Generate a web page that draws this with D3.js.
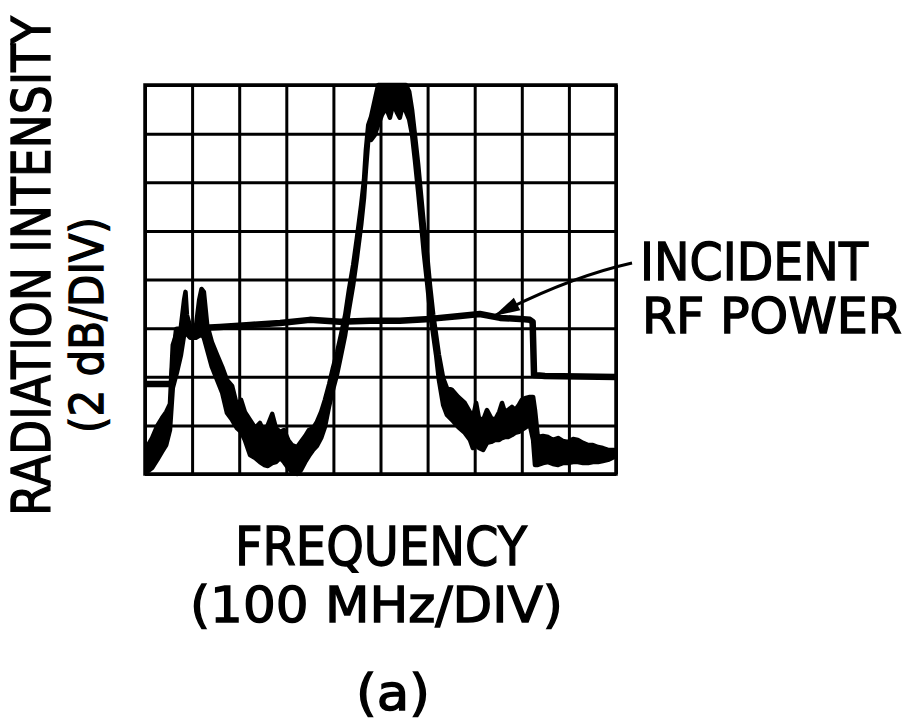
<!DOCTYPE html>
<html>
<head>
<meta charset="utf-8">
<script src="https://cdn.jsdelivr.net/npm/d3@7"></script>
<style>
  body { margin: 0; background: #fff; }
  text { font-family: "DejaVu Sans", sans-serif; fill: #000; stroke: #000; stroke-width: 1.4px; }
</style>
</head>
<body>
<div id="chart"></div>
<script>
// frequency offset (MHz, 100 MHz/div) and radiation intensity (dB, 2 dB/div)
var gridFreq = [0, 100, 200, 300, 400, 500, 600, 700, 800, 900, 1000];
var gridDb = [0, 2, 4, 6, 8, 10, 12, 14, 16];

// noisy radiation trace: top and bottom edge of the trace band
var radFreq = [4, 15, 26, 36, 45, 53, 59, 68, 76, 83, 86, 89, 96, 108, 115, 120, 125, 132, 142, 153,
  164, 174, 185, 195, 204, 212, 223, 234, 244, 253, 261, 270, 278, 287, 295, 304, 312, 323, 331, 340,
  348, 357, 365, 374, 382, 391, 399, 408, 416, 425, 433, 442, 450, 459, 465, 469, 474, 480, 488, 495,
  503, 512, 520, 527, 535, 541, 548, 554, 561, 567, 573, 580, 586, 592, 599, 605, 612, 618, 624, 633,
  641, 652, 665, 679, 690, 696, 703, 709, 718, 726, 735, 743, 752, 758, 764, 771, 779, 786, 794, 800,
  809, 817, 824, 828, 834, 845, 856, 866, 877, 887, 898, 909, 919, 930, 941, 951, 962, 972, 983, 996];
var radHi = [1.11, 1.48, 1.98, 2.30, 2.55, 2.88, 5.31, 5.84, 6.01, 7.16, 7.49, 6.54, 6.05, 6.05, 7.16, 7.61, 7.49, 6.13, 5.43, 4.90,
  4.40, 3.87, 3.62, 2.84, 3.05, 2.55, 2.22, 1.89, 2.10, 1.73, 2.02, 2.47, 1.89, 1.73, 1.81, 1.40, 1.19, 1.11, 1.32, 1.56,
  1.81, 1.89, 2.14, 2.55, 3.05, 3.70, 4.36, 5.02, 5.72, 6.54, 7.57, 8.60, 9.71, 11.07, 12.10, 13.33, 14.36, 14.69, 15.39, 16,
  16, 16, 16, 16, 16, 16, 16, 16, 15.72, 14.98, 13.95, 12.72, 11.48, 10.25, 9.01, 7.78, 6.54, 5.72, 4.90, 3.95,
  3.54, 3.46, 3.17, 2.92, 2.55, 2.30, 2.92, 2.30, 2.22, 2.63, 2.30, 2.22, 2.55, 2.92, 2.55, 2.63, 2.76, 2.63, 2.84, 3.05,
  3.13, 3.17, 3.17, 2.63, 1.52, 1.56, 1.52, 1.40, 1.48, 1.36, 1.32, 1.44, 1.40, 1.28, 1.19, 1.19, 1.11, 1.07, 0.99, 0.99];
var radLo = [0.08, 0.25, 0.58, 0.91, 1.19, 1.81, 3.54, 4.20, 4.86, 5.72, 5.80, 5.76, 5.60, 5.60, 5.68, 5.76, 5.60, 5.10, 4.40, 3.87,
  3.33, 2.51, 2.22, 1.89, 1.73, 1.40, 0.78, 0.66, 0.49, 0.37, 0.33, 0.45, 0.49, 0.66, 0.49, 0.25, 0.08, 0.00, 0.16, 0.49,
  0.74, 0.99, 1.15, 1.48, 1.93, 2.80, 3.46, 4.12, 4.86, 5.72, 6.75, 7.78, 8.89, 10.25, 11.36, 12.51, 13.74, 13.74, 13.95, 14.36,
  14.77, 15.06, 14.65, 15.23, 14.86, 14.65, 15.23, 14.90, 14.57, 13.95, 12.92, 11.60, 10.37, 9.09, 7.86, 6.75, 5.72, 4.90, 3.87, 2.84,
  2.43, 2.22, 1.93, 1.69, 1.40, 1.07, 1.19, 1.07, 0.99, 1.28, 1.32, 1.40, 1.40, 1.48, 1.52, 1.52, 1.60, 1.69, 1.73, 1.81,
  1.93, 2.02, 1.40, 0.37, 0.37, 0.45, 0.49, 0.41, 0.37, 0.45, 0.45, 0.49, 0.49, 0.45, 0.45, 0.49, 0.49, 0.53, 0.58, 0.70];

// incident RF power trace
var rfFreq = [0, 57, 62, 68, 85, 117, 159, 223, 287, 350, 414, 478, 541, 605, 669, 711, 754, 796, 817, 823, 826, 849, 1000];
var rfLevel = [3.70, 3.70, 4.86, 5.93, 5.93, 6.01, 6.05, 6.13, 6.21, 6.34, 6.26, 6.30, 6.30, 6.38, 6.50, 6.58, 6.42, 6.38, 6.34, 6.26, 4.07, 4.03, 3.99];

// annotation arrow: from label to the RF trace (MHz, dB)
var arrowFrom = [1034, 8.68];
var arrowBend = [900, 8.1];
var arrowTo = [741, 6.5];

var W = 913, H = 726;
var svg = d3.select("#chart").append("svg")
  .attr("width", W)
  .attr("height", H);

var x = d3.scaleLinear().domain([0, 1000]).range([145, 616]);
var y = d3.scaleLinear().domain([0, 16]).range([474, 85]);

// graticule
svg.append("g")
  .attr("transform", "translate(0," + y(0) + ")")
  .call(d3.axisBottom(x).tickValues(gridFreq).tickSize(-(y(0) - y(16))).tickFormat(""))
  .call(function (g) { g.select(".domain").remove(); })
  .selectAll("line").attr("stroke", "#000").attr("stroke-width", 3);

svg.append("g")
  .attr("transform", "translate(" + x(0) + ",0)")
  .call(d3.axisLeft(y).tickValues(gridDb).tickSize(-(x(1000) - x(0))).tickFormat(""))
  .call(function (g) { g.select(".domain").remove(); })
  .selectAll("line").attr("stroke", "#000").attr("stroke-width", 3);

svg.append("rect")
  .attr("x", x(0)).attr("y", y(16))
  .attr("width", x(1000) - x(0)).attr("height", y(0) - y(16))
  .attr("fill", "none").attr("stroke", "#000").attr("stroke-width", 3.5);

// RF power trace
var rfData = rfFreq.map(function (f, i) { return [f, rfLevel[i]]; });
svg.append("path")
  .datum(rfData)
  .attr("fill", "none")
  .attr("stroke", "#000")
  .attr("stroke-width", 6.5)
  .attr("stroke-linejoin", "round")
  .attr("d", d3.line().x(function (d) { return x(d[0]); }).y(function (d) { return y(d[1]); }));

// radiation trace band
var radData = radFreq.map(function (f, i) { return { f: f, hi: radHi[i], lo: radLo[i] }; });
svg.append("path")
  .datum(radData)
  .attr("fill", "#000")
  .attr("stroke", "#000")
  .attr("stroke-width", 4.5)
  .attr("stroke-linejoin", "round")
  .attr("d", d3.area()
    .x(function (d) { return x(d.f); })
    .y0(function (d) { return y(d.lo); })
    .y1(function (d) { return y(d.hi); }));

// arrow
var p0 = [x(arrowFrom[0]), y(arrowFrom[1])],
    pc = [x(arrowBend[0]), y(arrowBend[1])],
    p1 = [x(arrowTo[0]), y(arrowTo[1])];
var ap = d3.path();
ap.moveTo(p0[0], p0[1]);
ap.quadraticCurveTo(pc[0], pc[1], p1[0], p1[1]);
svg.append("path")
  .attr("d", ap.toString())
  .attr("fill", "none")
  .attr("stroke", "#000")
  .attr("stroke-width", 3);

var ang = Math.atan2(p1[1] - pc[1], p1[0] - pc[0]);
var hl = 26, hw = 7;
var bx = p1[0] - hl * Math.cos(ang), by = p1[1] - hl * Math.sin(ang);
svg.append("path")
  .attr("d", "M" + p1[0] + "," + p1[1] +
    "L" + (bx - hw * Math.sin(ang)) + "," + (by + hw * Math.cos(ang)) +
    "L" + (bx + hw * Math.sin(ang)) + "," + (by - hw * Math.cos(ang)) + "Z")
  .attr("fill", "#000");

// labels: squeeze each one to the width it has in the figure
function label(txt, px, py, size, len, rot) {
  var t = svg.append("text")
    .attr("x", 0).attr("y", 0)
    .attr("font-size", size)
    .text(txt);
  var w = t.node().getComputedTextLength();
  t.attr("transform", "translate(" + px + "," + py + ")" + (rot ? " rotate(-90)" : "") +
    " scale(" + (len / w) + ",1)");
  return t;
}

label("INCIDENT", 640, 280, 52, 228);
label("RF POWER", 642, 333, 50, 260);
label("FREQUENCY", 235, 565, 54, 292);
label("(100 MHz/DIV)", 190, 622, 50, 373);
label("(a)", 356, 710, 50, 74);
label("RADIATION INTENSITY", 50, 516, 53, 500, true);
label("(2 dB/DIV)", 103, 433, 46, 216, true);
</script>
</body>
</html>
